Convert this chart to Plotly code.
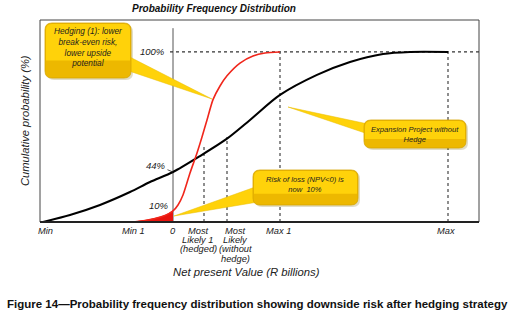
import plotly.graph_objects as go

# ---------------- data (schematic units) ----------------
black_x = [-13.0, -10.3, -7.3, -4.3, -2.3, 0.0, 2.7, 5.4, 7.7, 10.7, 14.4, 17.7, 21.0, 23.7, 27.5]
black_y = [0, 4.1, 10, 17.6, 23.5, 29.4, 38.8, 49.0, 60.0, 74.7, 86.5, 94.1, 98.8, 100, 100]

red_x = [-4.0, -2.8, -1.8, -0.8, 0.0, 0.5, 1.0, 1.7, 2.4, 2.9, 3.4, 4.0, 4.7, 5.4, 6.7, 8.0, 9.2, 10.7]
red_y = [0, 0.9, 2.1, 3.8, 6.5, 10, 15.9, 28.8, 40.6, 50, 60, 72.0, 80.0, 86.0, 93.5, 97.6, 99.4, 100]

loss_x = [-4.0, -2.8, -1.8, -0.8, 0.0]
loss_y = [0, 0.9, 2.1, 3.8, 6.5]

tick_vals = [-12.8, -4.0, 0.0, 2.5, 6.2, 10.5, 27.3]
tick_text = [["Min"], ["Min 1"], ["0"], ["Most", "Likely 1", "(hedged)"],
             ["Most", "Likely", "(without", "hedge)"], ["Max 1"], ["Max"]]

guide_x = [3.1, 5.4, 10.7, 27.5]        # dashed verticals
guide_top = [45, 50, 100, 100]           # their heights (%)
level_labels = [("100%", 100), ("44%", 29.4), ("10%", 6.5)]

X_RANGE = [-13.3, 30.6]
Y_RANGE = [0, 118.8]

# ---------------- geometry helpers (pixel -> paper) ----------------
L, R, T, B = 40, 479, 20, 222
def px(p):
    return (p - L) / (R - L)
def py(p):
    return (B - p) / (B - T)

def rrect(x0, y0, x1, y1, r=7):
    return (f"M {px(x0+r)},{py(y0)} L {px(x1-r)},{py(y0)} Q {px(x1)},{py(y0)} {px(x1)},{py(y0+r)} "
            f"L {px(x1)},{py(y1-r)} Q {px(x1)},{py(y1)} {px(x1-r)},{py(y1)} "
            f"L {px(x0+r)},{py(y1)} Q {px(x0)},{py(y1)} {px(x0)},{py(y1-r)} "
            f"L {px(x0)},{py(y0+r)} Q {px(x0)},{py(y0)} {px(x0+r)},{py(y0)} Z")

def rrect_top(x0, y0, x1, y1, r=6):
    return (f"M {px(x0+r)},{py(y0)} L {px(x1-r)},{py(y0)} Q {px(x1)},{py(y0)} {px(x1)},{py(y0+r)} "
            f"L {px(x1)},{py(y1)} L {px(x0)},{py(y1)} "
            f"L {px(x0)},{py(y0+r)} Q {px(x0)},{py(y0)} {px(x0+r)},{py(y0)} Z")

def wedge(a, b, tip):
    return f"M {px(a[0])},{py(a[1])} L {px(tip[0])},{py(tip[1])} L {px(b[0])},{py(b[1])} Z"

YEL_DARK = "#EDB800"
YEL = "#FFD20A"
YEL_LINE = "#D6A500"
TXT = "#1E1E1E"
FONT = "Liberation Sans"

fig = go.Figure()

fig.add_trace(go.Scatter(x=loss_x, y=loss_y, mode="lines", fill="tozeroy",
                         fillcolor="#E8140E", line=dict(color="#E8140E", width=1),
                         line_shape="spline", hoverinfo="skip", showlegend=False))
fig.add_trace(go.Scatter(x=black_x, y=black_y, mode="lines",
                         line=dict(color="black", width=2.1, shape="spline", smoothing=0.8),
                         showlegend=False))
fig.add_trace(go.Scatter(x=red_x, y=red_y, mode="lines",
                         line=dict(color="#F0261B", width=1.6, shape="spline", smoothing=0.7),
                         showlegend=False))

shapes = []
shapes.append(dict(type="rect", xref="paper", yref="paper", x0=0, x1=1, y0=0, y1=1,
                   line=dict(color="#444", width=1), layer="below"))
shapes.append(dict(type="line", xref="paper", yref="paper", x0=0, x1=1, y0=0, y1=0,
                   line=dict(color="#222", width=2)))
shapes.append(dict(type="line", xref="x", yref="y", x0=0, x1=0, y0=0, y1=114,
                   line=dict(color="#555", width=1), layer="below"))
shapes.append(dict(type="line", xref="x", yref="y", x0=-0.3, x1=X_RANGE[1], y0=100, y1=100,
                   line=dict(color="#333", width=1.2, dash="dot"), layer="below"))
for gx, gt in zip(guide_x, guide_top):
    shapes.append(dict(type="line", xref="x", yref="y", x0=gx, x1=gx, y0=0, y1=gt,
                       line=dict(color="#444", width=1.2, dash="dot"), layer="below"))

callouts = [
    dict(box=(45, 23, 131, 78), a=(124, 54), b=(126, 70), tip=(212, 99), fs=8.3,
         text="Hedging (1): lower<br>break-even risk,<br>lower upside<br>potential", tx=88, ty=47),
    dict(box=(364, 120, 466, 148), a=(368, 124), b=(368, 134), tip=(288, 107), fs=7.6,
         text="Expansion Project without<br>Hedge", tx=415, ty=134),
    dict(box=(253, 170, 358, 205), a=(258, 186), b=(258, 202), tip=(174, 216), fs=7.6,
         text="Risk of loss (NPV&lt;0) is<br>now  10%", tx=305, ty=184),
]
annotations = []
for c in callouts:
    x0, y0, x1, y1 = c["box"]
    h = y1 - y0
    shapes.append(dict(type="path", xref="paper", yref="paper",
                       path=rrect(x0 + 2, y0 + 2, x1 + 2, y1 + 2),
                       fillcolor="rgba(120,100,0,0.22)", line=dict(width=0)))
    shapes.append(dict(type="path", xref="paper", yref="paper",
                       path=wedge(c["a"], c["b"], c["tip"]),
                       fillcolor=YEL, line=dict(color="#E8BC00", width=0.5)))
    shapes.append(dict(type="path", xref="paper", yref="paper", path=rrect(x0, y0, x1, y1),
                       fillcolor=YEL_DARK, line=dict(color=YEL_LINE, width=0.8)))
    shapes.append(dict(type="path", xref="paper", yref="paper",
                       path=rrect_top(x0 + 1, y0 + 1, x1 - 1, y0 + 0.68 * h),
                       fillcolor=YEL, line=dict(width=0)))
    annotations.append(dict(xref="paper", yref="paper", x=px(c["tx"]), y=py(c["ty"]),
                            text=f"<i>{c['text']}</i>", showarrow=False,
                            font=dict(family=FONT, size=c["fs"], color=TXT),
                            xanchor="center", yanchor="middle"))

# tick labels, one line at a time for tight spacing
for v, lines in zip(tick_vals, tick_text):
    for i, t in enumerate(lines):
        annotations.append(dict(xref="x", yref="paper", x=v, y=py(230.5 + i * 9.5),
                                text=f"<i>{t}</i>", showarrow=False,
                                xanchor="center", yanchor="middle",
                                font=dict(family=FONT, size=9.3, color="#222")))

lab, val = level_labels[0]
annotations.append(dict(xref="x", yref="y", x=-0.6, y=val, text=f"<i>{lab}</i>",
                        showarrow=False, xanchor="right", yanchor="middle",
                        font=dict(family=FONT, size=9.5, color="#222")))
lab, val = level_labels[1]
annotations.append(dict(xref="x", yref="y", x=0, y=val, text=f"<i>{lab}</i>",
                        showarrow=True, arrowhead=0, arrowwidth=0.8, arrowcolor="#222",
                        ax=-17, ay=-7, xanchor="center", yanchor="middle",
                        font=dict(family=FONT, size=9.5, color="#222")))
lab, val = level_labels[2]
annotations.append(dict(xref="x", yref="y", x=-0.2, y=val + 3, text=f"<i>{lab}</i>",
                        showarrow=False, xanchor="right", yanchor="middle",
                        font=dict(family=FONT, size=9.5, color="#222")))

annotations.append(dict(xref="paper", yref="paper", x=px(214), y=py(9),
                        text="<b><i>Probability Frequency Distribution</i></b>", showarrow=False,
                        xanchor="center", yanchor="middle",
                        font=dict(family=FONT, size=10, color="#111")))
annotations.append(dict(xref="paper", yref="paper", x=px(25), y=py(121),
                        text="<i>Cumulative probability (%)</i>", showarrow=False, textangle=-90,
                        xanchor="center", yanchor="middle",
                        font=dict(family=FONT, size=11.2, color="#222")))
annotations.append(dict(xref="paper", yref="paper", x=px(246), y=py(272),
                        text="<i>Net present Value (R billions)</i>", showarrow=False,
                        xanchor="center", yanchor="middle",
                        font=dict(family=FONT, size=11.3, color="#222")))
annotations.append(dict(xref="paper", yref="paper", x=px(257), y=py(304),
                        text="<b>Figure 14\u2014Probability frequency distribution showing downside risk after hedging strategy</b>",
                        showarrow=False, xanchor="center", yanchor="middle",
                        font=dict(family=FONT, size=11.5, color="#111")))

fig.update_layout(
    width=509, height=313,
    margin=dict(l=L, r=509 - R, t=T, b=313 - B),
    paper_bgcolor="white", plot_bgcolor="white",
    xaxis=dict(range=X_RANGE, showgrid=False, zeroline=False, showticklabels=False,
               ticks="", showline=False, fixedrange=True),
    yaxis=dict(range=Y_RANGE, showgrid=False, zeroline=False, showticklabels=False,
               ticks="", showline=False, fixedrange=True),
    shapes=shapes, annotations=annotations, showlegend=False,
)

fig.write_html("out.html", config={"displayModeBar": False},
               post_script="document.body.style.margin='0';document.body.style.overflow='hidden';")
